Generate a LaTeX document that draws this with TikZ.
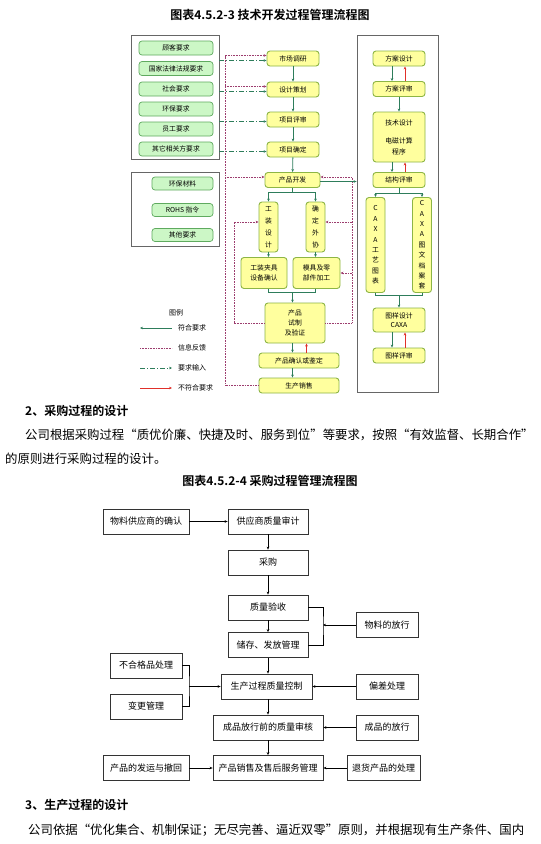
\documentclass[tikz,border=0pt]{standalone}
\usepackage{fontspec}
\setmainfont{Noto Sans CJK SC}[BoldFont={Noto Sans CJK SC Bold}]
\usetikzlibrary{arrows.meta}
\definecolor{pillfill}{HTML}{CCF7C6}
\definecolor{pillline}{HTML}{5FAA5F}
\definecolor{yfill}{HTML}{FFFF9E}
\definecolor{yline}{HTML}{8DB545}
\definecolor{okgreen}{HTML}{2E7D5B}
\definecolor{fbpurple}{HTML}{9C3D6E}
\definecolor{ngred}{HTML}{E0302A}

\begin{document}
\begin{tikzpicture}[x=1pt,y=-1pt,>={Stealth[length=3pt,width=2.6pt]},
  every node/.style={align=center,inner sep=0pt},
  frame/.style={draw=black!60,line width=0.8pt},
  pill/.style={draw=pillline,fill=pillfill,rounded corners=3pt,line width=0.7pt,
    minimum height=14pt,font=\fontsize{6.8}{8}\selectfont},
  ybox/.style={draw=yline,fill=yfill,rounded corners=3pt,line width=0.9pt,
    minimum width=52pt,minimum height=15pt,font=\fontsize{6.8}{8}\selectfont},
  ok/.style={draw=okgreen,line width=0.8pt},
  fb/.style={draw=fbpurple,line width=0.9pt,dash pattern=on 0.8pt off 0.8pt},
  req/.style={draw=okgreen,line width=0.8pt,dash pattern=on 5pt off 2pt on 1pt off 2pt},
  ng/.style={draw=ngred,line width=0.7pt},
  pbox/.style={draw=black!80,line width=0.8pt,minimum height=25pt,font=\fontsize{9}{10}\selectfont},
  flow/.style={draw=black,line width=0.7pt},
  head/.style={font=\bfseries\fontsize{12}{14}\selectfont},
  body/.style={anchor=west,font=\fontsize{12.4}{14}\selectfont}]
\useasboundingbox[fill=white] (0,0) rectangle (541,844);

% ---- figure 4.5.2-3
\node[head] (t1) at (270,15) {图表4.5.2-3 技术开发过程管理流程图};

% input boxes on the left
\node[frame,minimum width=88pt,minimum height=124pt] (reqbox) at (175,97) {};
\node[pill,minimum width=74pt] (p1) at (176,48) {顾客要求};
\node[pill,minimum width=74pt] (p2) at (176,68.5) {国家法律法规要求};
\node[pill,minimum width=74pt] (p3) at (176,89) {社会要求};
\node[pill,minimum width=74pt] (p4) at (176,109) {环保要求};
\node[pill,minimum width=74pt] (p5) at (176,129) {员工要求};
\node[pill,minimum width=74pt] (p6) at (176,149) {其它相关方要求};
\node[frame,minimum width=88pt,minimum height=74pt] (matbox) at (175,209) {};
\node[pill,minimum width=61pt,minimum height=13pt] (m1) at (182.5,183.5) {环保材料};
\node[pill,minimum width=61pt,minimum height=13pt] (m2) at (182.5,210) {ROHS 指令};
\node[pill,minimum width=61pt,minimum height=13pt] (m3) at (182.5,235) {其他要求};

% main column
\node[ybox] (mr) at (293,58.5) {市场调研};
\node[ybox] (sj) at (293,89.5) {设计策划};
\node[ybox] (ps) at (293,119.5) {项目评审};
\node[ybox] (qd) at (293,149.5) {项目确定};
\node[ybox,minimum width=55pt] (kf) at (292.5,180) {产品开发};
\node[ybox,minimum width=19pt,minimum height=50pt,font=\fontsize{6.8}{12}\selectfont] (gz) at (268.5,227) {工\\装\\设\\计};
\node[ybox,minimum width=19pt,minimum height=50pt,font=\fontsize{6.8}{12}\selectfont] (wx) at (315.5,227) {确\\定\\外\\协};
\node[ybox,minimum width=46pt,minimum height=31pt,font=\fontsize{6.8}{10}\selectfont] (jj) at (264,273) {工装夹具\\设备确认};
\node[ybox,minimum width=47pt,minimum height=31pt,font=\fontsize{6.8}{10}\selectfont] (mj) at (316.5,273) {模具及零\\部件加工};
\node[ybox,minimum width=60pt,minimum height=40pt,font=\fontsize{6.8}{10}\selectfont] (sz) at (295,323) {产品\\试制\\及验证};
\node[ybox,minimum width=80pt] (qr) at (299,360.5) {产品确认或鉴定};
\node[ybox,minimum width=80pt] (xs) at (299,385.5) {生产销售};

\draw[ok,->] (mr) -- (sj);
\draw[ok,->] (sj) -- (ps);
\draw[ok,->] (ps) -- (qd);
\draw[ok,->] (qd) -- (kf);
\coordinate (kfbar) at ([yshift=-4pt]kf.south);
\draw[ok,->] (kf.south) -- (kfbar) -| (gz.north);
\draw[ok,->] (kfbar) -| (wx.north);
\draw[ok,->] (gz.south) -- (gz.south |- jj.north);
\draw[ok,->] (wx.south) -- (wx.south |- mj.north);
\coordinate (szbar) at ([yshift=10pt]sz.north -| kf.south);
\draw[ok] (gz.south |- jj.south) |- (szbar);
\draw[ok] (wx.south |- mj.south) |- (szbar);
\draw[ok,->] (szbar) -- (szbar |- sz.north);
\draw[ok,->] (kf.south |- sz.south) -- (kf.south |- qr.north);
\draw[ng,->] ([xshift=14pt]kf.south |- qr.north) -- ([xshift=14pt]kf.south |- sz.south);
\draw[ok,->] (kf.south |- qr.south) -- (kf.south |- xs.north);

% requirement inputs
\draw[req,->] ([yshift=-2pt]mr.west -| reqbox.east) -- ([yshift=-2pt]mr.west);
\draw[req,->] ([yshift=-2pt]sj.west -| reqbox.east) -- ([yshift=-2pt]sj.west);
\draw[req,->] ([yshift=-2pt]ps.west -| reqbox.east) -- ([yshift=-2pt]ps.west);
\draw[req,->] ([yshift=-2pt]qd.west -| reqbox.east) -- ([yshift=-2pt]qd.west);

% feedback
\coordinate (fbL) at (225,55.5);
\draw[fb,->] (xs.west) -| (fbL) -- (fbL -| mr.west);
\draw[fb,->] ([yshift=3pt]sj.west -| fbL) -- ([yshift=3pt]sj.west);
\draw[fb,->] ([yshift=3pt]kf.west -| fbL) -- ([yshift=3pt]kf.west);
\coordinate (fbL2) at (234,222);
\draw[fb,->] (sz.west) -| (fbL2) -- (fbL2 -| gz.west);
\coordinate (fbR) at (352,177);
\draw[fb,->] (sz.east) -| (fbR) -- (fbR -| kf.east);
\draw[fb,->] ([yshift=5pt]wx.east -| fbR) -- ([yshift=5pt]wx.east);
\draw[fb,->] (mj.east -| fbR) -- (mj.east);

% right column
\node[frame,minimum width=81pt,minimum height=357pt] (rbox) at (397.5,213.5) {};
\draw[ok,->] ([yshift=-1.5pt]kf.east) -- ([yshift=-1.5pt]kf.east -| rbox.west);
\node[ybox] (fs) at (399,58.5) {方案设计};
\node[ybox] (fp) at (399,89) {方案评审};
\node[ybox,minimum height=50pt,font=\fontsize{6.8}{11}\selectfont] (js) at (399,137) {技术设计\\[7pt]电磁计算\\程序};
\node[ybox] (jp) at (399,180) {结构评审};
\node[ybox,minimum width=19pt,minimum height=95pt,font=\fontsize{6.8}{10.4}\selectfont] (c1) at (375.5,245) {C\\A\\X\\A\\工\\艺\\图\\表};
\node[ybox,minimum width=19pt,minimum height=95pt,font=\fontsize{6.8}{10.4}\selectfont] (c2) at (422,245) {C\\A\\X\\A\\图\\文\\档\\案\\套};
\node[ybox,minimum height=24pt,font=\fontsize{6.8}{9}\selectfont] (ty) at (399,320) {图样设计\\CAXA};
\node[ybox] (tp) at (399,355.5) {图样评审};

\draw[ok,->] ([xshift=-7pt]fs.south) -- ([xshift=-7pt]fp.north);
\draw[ng,->] ([xshift=6pt]fp.north) -- ([xshift=6pt]fs.south);
\draw[ok,->] (fp) -- (js);
\draw[ok,->] ([xshift=-7pt]js.south) -- ([xshift=-7pt]jp.north);
\draw[ng,->] ([xshift=6pt]jp.north) -- ([xshift=6pt]js.south);
\coordinate (jpbar) at ([yshift=-5pt]jp.south);
\draw[ok,->] (jp.south) -- (jpbar) -| (c1.north);
\draw[ok,->] (jpbar) -| (c2.north);
\coordinate (tybar) at ([yshift=12pt]ty.north);
\draw[ok] (c1.south) |- (tybar);
\draw[ok] (c2.south) |- (tybar);
\draw[ok,->] (tybar) -- (ty.north);
\draw[ok,->] ([xshift=-7pt]ty.south) -- ([xshift=-7pt]tp.north);
\draw[ng,->] ([xshift=6pt]tp.north) -- ([xshift=6pt]ty.south);

% legend
\node[font=\fontsize{7}{8}\selectfont] (lg) at (176,313) {图例};
\node[anchor=west,font=\fontsize{7}{8}\selectfont] (l1) at (178,328) {符合要求};
\node[anchor=west,font=\fontsize{7}{8}\selectfont] (l2) at (178,348) {信息反馈};
\node[anchor=west,font=\fontsize{7}{8}\selectfont] (l3) at (178,368) {要求输入};
\node[anchor=west,font=\fontsize{7}{8}\selectfont] (l4) at (178,388) {不符合要求};
\draw[ok,<-] ([xshift=-38pt]l1.west) -- ([xshift=-6pt]l1.west);
\draw[fb] ([xshift=-38pt]l2.west) -- ([xshift=-6pt]l2.west);
\draw[req,->] ([xshift=-38pt]l3.west) -- ([xshift=-6pt]l3.west);
\draw[ng,->] ([xshift=-38pt]l4.west) -- ([xshift=-6pt]l4.west);

% ---- text
\node[head,anchor=west] (h2) at (25,411) {2、采购过程的设计};
\node[body] (b1) at (25,435) {公司根据采购过程“质优价廉、快捷及时、服务到位”等要求，按照“有效监督、长期合作”};
\node[body] (b2) at (5,459) {的原则进行采购过程的设计。};
\node[head] (t2) at (270,481) {图表4.5.2-4 采购过程管理流程图};

% ---- figure 4.5.2-4
\node[pbox,minimum width=86pt] (wq) at (146,521.5) {物料供应商的确认};
\node[pbox,minimum width=80pt] (sh) at (268,521.5) {供应商质量审计};
\node[pbox,minimum width=80pt] (cg) at (268,562.5) {采购};
\node[pbox,minimum width=80pt] (ys) at (268,607.5) {质量验收};
\node[pbox,minimum width=80pt] (cc) at (268,645) {储存、发放管理};
\node[pbox,minimum width=62pt] (wf) at (387,625) {物料的放行};
\node[pbox,minimum width=72pt] (bh) at (146,665.5) {不合格品处理};
\node[pbox,minimum width=72pt] (bg) at (146,706.5) {变更管理};
\node[pbox,minimum width=91pt] (kz) at (266.5,686.5) {生产过程质量控制};
\node[pbox,minimum width=62pt] (pc) at (387,686.5) {偏差处理};
\node[pbox,minimum width=110pt] (sk) at (268,727.5) {成品放行前的质量审核};
\node[pbox,minimum width=62pt] (cf) at (387,727.5) {成品的放行};
\node[pbox,minimum width=110pt] (xg) at (268,768) {产品销售及售后服务管理};
\node[pbox,minimum width=86pt] (fy) at (146,768) {产品的发运与撤回};
\node[pbox,minimum width=73pt] (th) at (383.5,768) {退货产品的处理};

\draw[flow,->] (wq) -- (sh);
\draw[flow,->] (sh) -- (cg);
\draw[flow,->] (cg) -- (ys);
\draw[flow,->] (ys) -- (cc);
\draw[flow,->] (cc.south) -- (cc.south |- kz.north);
\draw[flow,->] (kz.south -| cc.south) -- (sk);
\draw[flow,->] (sk) -- (xg);
\coordinate (brR) at (323,625);
\draw[flow] (ys.east) -| (brR) |- (cc.east);
\draw[flow,->] (wf) -- (brR);
\coordinate (brL) at (189,686.5);
\draw[flow] (bh.east) -| (brL) |- (bg.east);
\draw[flow,->] (brL) -- (kz);
\draw[flow,->] (pc) -- (kz);
\draw[flow,->] (cf) -- (sk);
\draw[flow,->] (fy) -- (xg);
\draw[flow,->] (th) -- (xg);

% ---- text
\node[head,anchor=west] (h3) at (25,805) {3、生产过程的设计};
\node[body] (b3) at (28,830) {公司依据“优化集合、机制保证；无尽完善、逼近双零”原则，并根据现有生产条件、国内};
\end{tikzpicture}
\end{document}
